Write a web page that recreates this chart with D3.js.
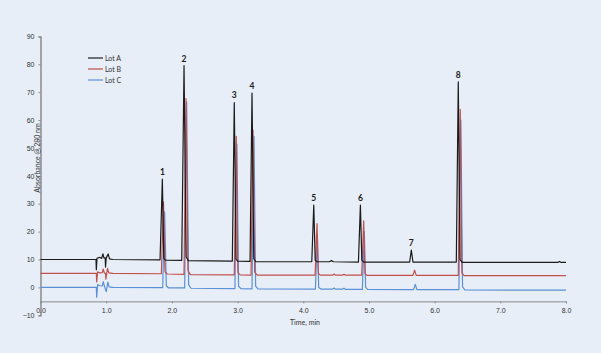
<!DOCTYPE html>
<html>
<head>
<meta charset="utf-8">
<script src="https://cdn.jsdelivr.net/npm/d3@7"></script>
<style>
  html, body { margin: 0; padding: 0; background: #e7eef7; }
  svg { display: block; font-family: Lato, "Open Sans", sans-serif; }
</style>
</head>
<body>
<div id="chart"></div>
<script>
// Chromatogram traces, [time (min), absorbance]
const lotA = [
  [0, 10], [0.845, 10], [0.85, 6.3], [0.86, 10.4], [0.9, 10.8], [0.93, 10.4], [0.95, 12], [0.965, 10.6],
  [0.985, 10.6], [0.99, 7.3], [1.0, 10.5], [1.03, 12], [1.05, 10.2], [1.1, 10],
  [1.82, 9.9], [1.855, 38.8], [1.877, 10.5], [1.9, 9.8],
  [2.15, 9.7], [2.185, 79.5], [2.217, 11], [2.25, 9.6],
  [2.92, 9.4], [2.95, 66.3], [2.977, 10.2], [3.0, 9.4],
  [3.19, 9.3], [3.22, 69.7], [3.247, 10.3], [3.28, 9.2],
  [4.13, 9.2], [4.16, 29.5], [4.182, 9.7], [4.21, 9.2], [4.4, 9.2], [4.43, 9.6], [4.46, 9.2],
  [4.84, 9.1], [4.87, 29.5], [4.892, 9.7], [4.92, 9.1],
  [5.62, 9.1], [5.645, 13.4], [5.67, 9.1],
  [6.33, 9.1], [6.36, 73.7], [6.387, 10], [6.42, 9.0],
  [7.88, 9.0], [7.9, 9.3], [7.92, 9.0], [8, 9.0]
];
const lotB = [
  [0, 5], [0.85, 5], [0.855, 2], [0.87, 5.6], [0.9, 5.2], [0.94, 5.3], [0.955, 6.6], [0.97, 5.2],
  [0.99, 5], [0.995, 3], [1.02, 6.8], [1.04, 5.2], [1.1, 5],
  [1.84, 4.9], [1.872, 30.7], [1.895, 5.6], [1.93, 4.8],
  [2.185, 4.7], [2.215, 67.7], [2.245, 6], [2.28, 4.6],
  [2.95, 4.5], [2.98, 54.2], [3.005, 5.3], [3.04, 4.5],
  [3.205, 4.4], [3.235, 56.4], [3.26, 5.5], [3.3, 4.4],
  [4.18, 4.4], [4.21, 22.9], [4.23, 5], [4.26, 4.4], [4.45, 4.4], [4.47, 4.8], [4.49, 4.4],
  [4.6, 4.4], [4.62, 4.7], [4.64, 4.4],
  [4.89, 4.4], [4.92, 23.9], [4.94, 5], [4.97, 4.3],
  [5.67, 4.3], [5.695, 6.2], [5.72, 4.3],
  [6.36, 4.3], [6.39, 63.8], [6.415, 5.2], [6.45, 4.2],
  [8, 4.2]
];
const lotC = [
  [0, 0], [0.85, 0], [0.855, -3.5], [0.87, 1], [0.9, 0.6], [0.94, 0.5], [0.955, 2.1], [0.975, 0.3],
  [1.0, -1.5], [1.025, 1.9], [1.045, 0.2], [1.1, 0],
  [1.86, -0.1], [1.89, 27.1], [1.915, 0.6], [1.95, -0.2],
  [2.195, -0.2], [2.225, 66.5], [2.255, 1], [2.29, -0.3],
  [2.96, -0.4], [2.99, 51.4], [3.015, 0.4], [3.05, -0.4],
  [3.22, -0.5], [3.25, 54.2], [3.275, 0.5], [3.31, -0.5],
  [4.185, -0.6], [4.215, 18.1], [4.235, 0], [4.27, -0.6], [4.45, -0.6], [4.47, -0.2], [4.49, -0.6],
  [4.6, -0.6], [4.62, -0.3], [4.64, -0.7],
  [4.9, -0.7], [4.93, 20], [4.95, 0], [4.98, -0.7],
  [5.68, -0.8], [5.705, 1.1], [5.73, -0.8],
  [6.37, -0.8], [6.40, 60], [6.425, 0.2], [6.46, -0.9],
  [8, -1.0]
];

const seriesNames = ['Lot A', 'Lot B', 'Lot C'];
const seriesColors = ['#1b1b1b', '#c0504d', '#5b8fd8'];

// Peak numbers placed above the Lot A apexes
const peakLabels = ['1', '2', '3', '4', '5', '6', '7', '8'];
const peakTimes = [1.855, 2.185, 2.95, 3.22, 4.16, 4.87, 5.645, 6.36];
const peakHeights = [38.8, 79.5, 66.3, 69.7, 29.5, 29.5, 13.4, 73.7];

const yTicks = [-10, 0, 10, 20, 30, 40, 50, 60, 70, 80, 90];
const xTicks = [0, 1, 2, 3, 4, 5, 6, 7, 8];

const W = 601, H = 353;
const svg = d3.select('#chart').append('svg')
  .attr('width', W).attr('height', H);

svg.append('rect').attr('width', W).attr('height', H).attr('fill', '#e7eef7');

const x = d3.scaleLinear().domain([0, 8]).range([40.5, 566]);
const y = d3.scaleLinear().domain([-10, 90]).range([315.3, 36.4]);

// y axis
const yAxis = svg.append('g')
  .attr('transform', `translate(${x(0)},0)`)
  .call(d3.axisLeft(y).tickValues(yTicks).tickSize(2).tickPadding(4));
yAxis.select('.domain').attr('stroke', '#8a8a8a').attr('stroke-width', 1.5);
yAxis.selectAll('.tick line').attr('stroke', '#8a8a8a');
yAxis.selectAll('.tick text').attr('fill', '#333').style('font-size', '7px');

// x axis drawn at y = -5
const xAxis = svg.append('g')
  .attr('transform', `translate(0,${y(-5)})`)
  .call(d3.axisBottom(x).tickValues(xTicks).tickSize(2).tickPadding(5).tickFormat(d3.format('.1f')));
xAxis.select('.domain').attr('stroke', '#8a8a8a').attr('stroke-width', 1);
xAxis.selectAll('.tick line').attr('stroke', '#8a8a8a');
xAxis.selectAll('.tick text').attr('fill', '#333').style('font-size', '7px');

svg.append('text')
  .attr('x', 305).attr('y', 325)
  .attr('text-anchor', 'middle')
  .attr('fill', '#333')
  .style('font-size', '7px')
  .text('Time, min');

svg.append('text')
  .attr('transform', `translate(39.5,158) rotate(-90)`)
  .attr('text-anchor', 'middle')
  .attr('fill', '#333')
  .style('font-size', '7px')
  .text('Absorbance @ 280 nm');

// traces
const line = d3.line()
  .x(d => x(d[0]))
  .y(d => y(d[1]));

const traces = [lotA, lotB, lotC];
[2, 1, 0].forEach(i => {
  svg.append('path')
    .datum(traces[i])
    .attr('d', line)
    .attr('fill', 'none')
    .attr('stroke', seriesColors[i])
    .attr('stroke-width', 1.2)
    .attr('stroke-linejoin', 'round');
});

// peak labels
svg.selectAll('.peak-label')
  .data(peakLabels)
  .enter()
  .append('text')
  .attr('class', 'peak-label')
  .attr('x', (d, i) => x(peakTimes[i]))
  .attr('y', (d, i) => y(peakHeights[i]) - 4)
  .attr('text-anchor', 'middle')
  .attr('fill', '#1b1b1b')
  .style('font-size', '8.5px')
  .style('font-weight', 'bold')
  .text(d => d);

// legend
const legend = svg.append('g').attr('transform', 'translate(88,58)');
seriesNames.forEach((name, i) => {
  const g = legend.append('g').attr('transform', `translate(0,${i * 11})`);
  g.append('line')
    .attr('x1', 0).attr('x2', 15)
    .attr('stroke', seriesColors[i])
    .attr('stroke-width', 1.2);
  g.append('text')
    .attr('x', 17).attr('y', 2.5)
    .attr('fill', '#333')
    .style('font-size', '7px')
    .text(name);
});
</script>
</body>
</html>
